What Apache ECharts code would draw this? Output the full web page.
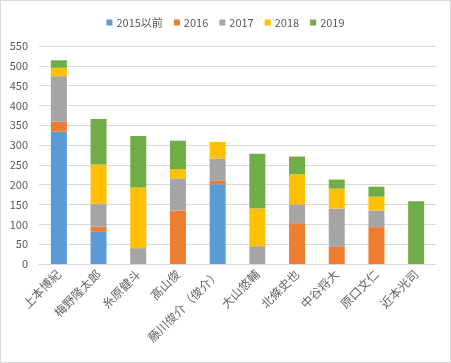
<!DOCTYPE html>
<html><head><meta charset="utf-8">
<script src="https://cdn.jsdelivr.net/npm/echarts@6/dist/echarts.min.js"></script>
<style>html,body{margin:0;padding:0;background:#fff}#c{width:449px;height:361px;border:1px solid #d9d9d9}</style>
</head><body><div id="c"></div>
<script>
const categories = ['上本博紀','梅野隆太郎','糸原健斗','髙山俊','藤川俊介（俊介）','大山悠輔','北條史也','中谷将大','原口文仁','近本光司'];
const seriesNames = ['2015以前','2016','2017','2018','2019'];
const s2015 = [334, 81, 0, 0, 201, 0, 0, 0, 0, 0];
const s2016 = [25, 13, 0, 135, 9, 0, 103, 43, 93, 0];
const s2017 = [115, 57, 40, 81, 56, 45, 47, 97, 42, 0];
const s2018 = [21, 100, 153, 23, 42, 95, 76, 50, 35, 0];
const s2019 = [19, 115, 130, 72, 0, 138, 45, 23, 25, 158];
const yTicks = {min: 0, max: 550, interval: 50};
const colors = ['#5B9BD5','#ED7D31','#A5A5A5','#FFC000','#70AD47'];
const font = '"Noto Sans CJK JP", sans-serif';
const chart = echarts.init(document.getElementById('c'));
const data = [s2015, s2016, s2017, s2018, s2019];
chart.setOption({
  animation: false,
  color: colors,
  textStyle: {fontFamily: font},
  legend: {
    top: 11, left: 'center', itemWidth: 6, itemHeight: 6, itemGap: 11,
    icon: 'rect',
    textStyle: {fontSize: 11, color: '#595959', fontFamily: font, padding: [0,0,0,-1]},
    data: seriesNames
  },
  grid: {left: 38, right: 14, top: 45, bottom: 98},
  xAxis: {
    type: 'category', data: categories,
    axisLine: {lineStyle: {color: '#d9d9d9'}},
    axisTick: {show: false},
    axisLabel: {rotate: 45, fontSize: 12, color: '#666666', interval: 0, margin: 8, fontFamily: font}
  },
  yAxis: {
    type: 'value', min: yTicks.min, max: yTicks.max, interval: yTicks.interval,
    axisLine: {show: false}, axisTick: {show: false},
    splitLine: {lineStyle: {color: '#d9d9d9'}},
    axisLabel: {fontSize: 11, color: '#595959', margin: 11, fontFamily: font}
  },
  series: seriesNames.map((n, i) => ({
    name: n, type: 'bar', stack: 'total', data: data[i], barWidth: 16
  }))
});
</script></body></html>
